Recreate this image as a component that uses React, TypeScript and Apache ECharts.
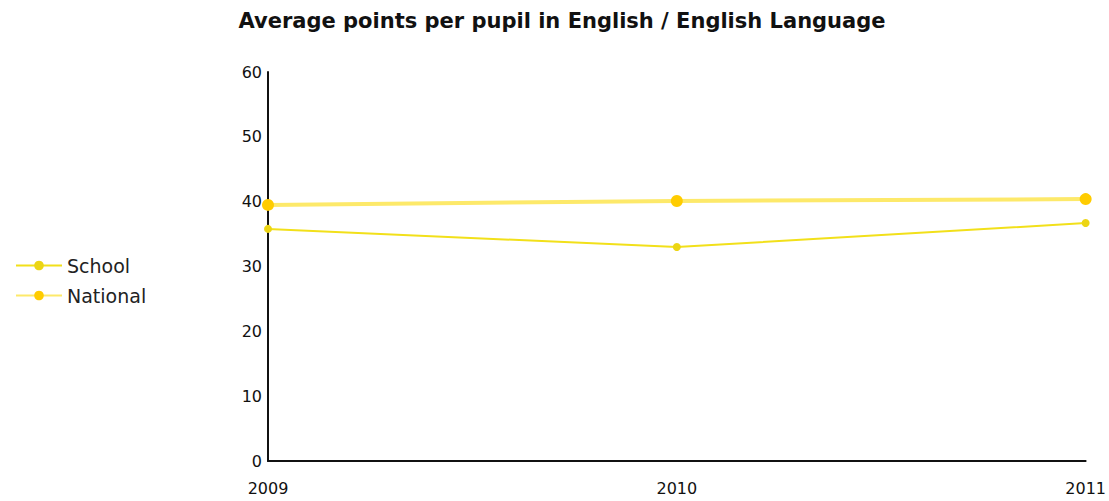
import React, { useEffect, useRef } from "react";
import * as echarts from "echarts";

const years = ["2009", "2010", "2011"];
const schoolValues = [35.8, 33.0, 36.7];
const nationalValues = [39.5, 40.1, 40.4];
const yTicks = { min: 0, max: 60, interval: 10 };

export default function App() {
  const ref = useRef<HTMLDivElement>(null);
  useEffect(() => {
    const chart = echarts.init(ref.current!, null, { renderer: "svg" });
    chart.setOption({
      animation: false,
      backgroundColor: "#ffffff",
      title: {
        text: "Average points per pupil in English / English Language",
        left: 557,
        textAlign: "center",
        top: 5,
        textStyle: { fontFamily: "DejaVu Sans", fontSize: 21, fontWeight: "bold", color: "#111" },
      },
      legend: {
        orient: "vertical",
        left: 10,
        top: 251,
        itemWidth: 46,
        itemHeight: 12,
        itemGap: 11,
        textStyle: { fontFamily: "DejaVu Sans", fontSize: 19, color: "#222" },
        data: ["School", "National"],
      },
      grid: { left: 268, right: 21, top: 72, bottom: 40 },
      xAxis: {
        type: "category",
        data: years,
        boundaryGap: false,
        axisLine: { lineStyle: { color: "#111", width: 2 } },
        axisTick: { show: false },
        axisLabel: {
          fontFamily: "DejaVu Sans",
          fontSize: 16,
          color: "#111",
          margin: 19,
        },
      },
      yAxis: {
        type: "value",
        min: yTicks.min,
        max: yTicks.max,
        interval: yTicks.interval,
        axisLine: { show: true, lineStyle: { color: "#111", width: 2 } },
        axisTick: { show: false },
        splitLine: { show: false },
        axisLabel: { fontFamily: "DejaVu Sans", fontSize: 16, color: "#111", margin: 6 },
      },
      series: [
        {
          name: "School",
          type: "line",
          data: schoolValues,
          symbol: "circle",
          symbolSize: 8,
          lineStyle: { color: "#f2e01a", width: 2 },
          itemStyle: { color: "#ecd514" },
        },
        {
          name: "National",
          type: "line",
          data: nationalValues,
          symbol: "circle",
          symbolSize: 12,
          lineStyle: { color: "#fde96a", width: 4 },
          itemStyle: { color: "#ffcc00" },
        },
      ],
    });
    return () => chart.dispose();
  }, []);
  return <div ref={ref} style={{ width: 1109, height: 501, position: "absolute", left: 0, top: 0 }} />;
}
